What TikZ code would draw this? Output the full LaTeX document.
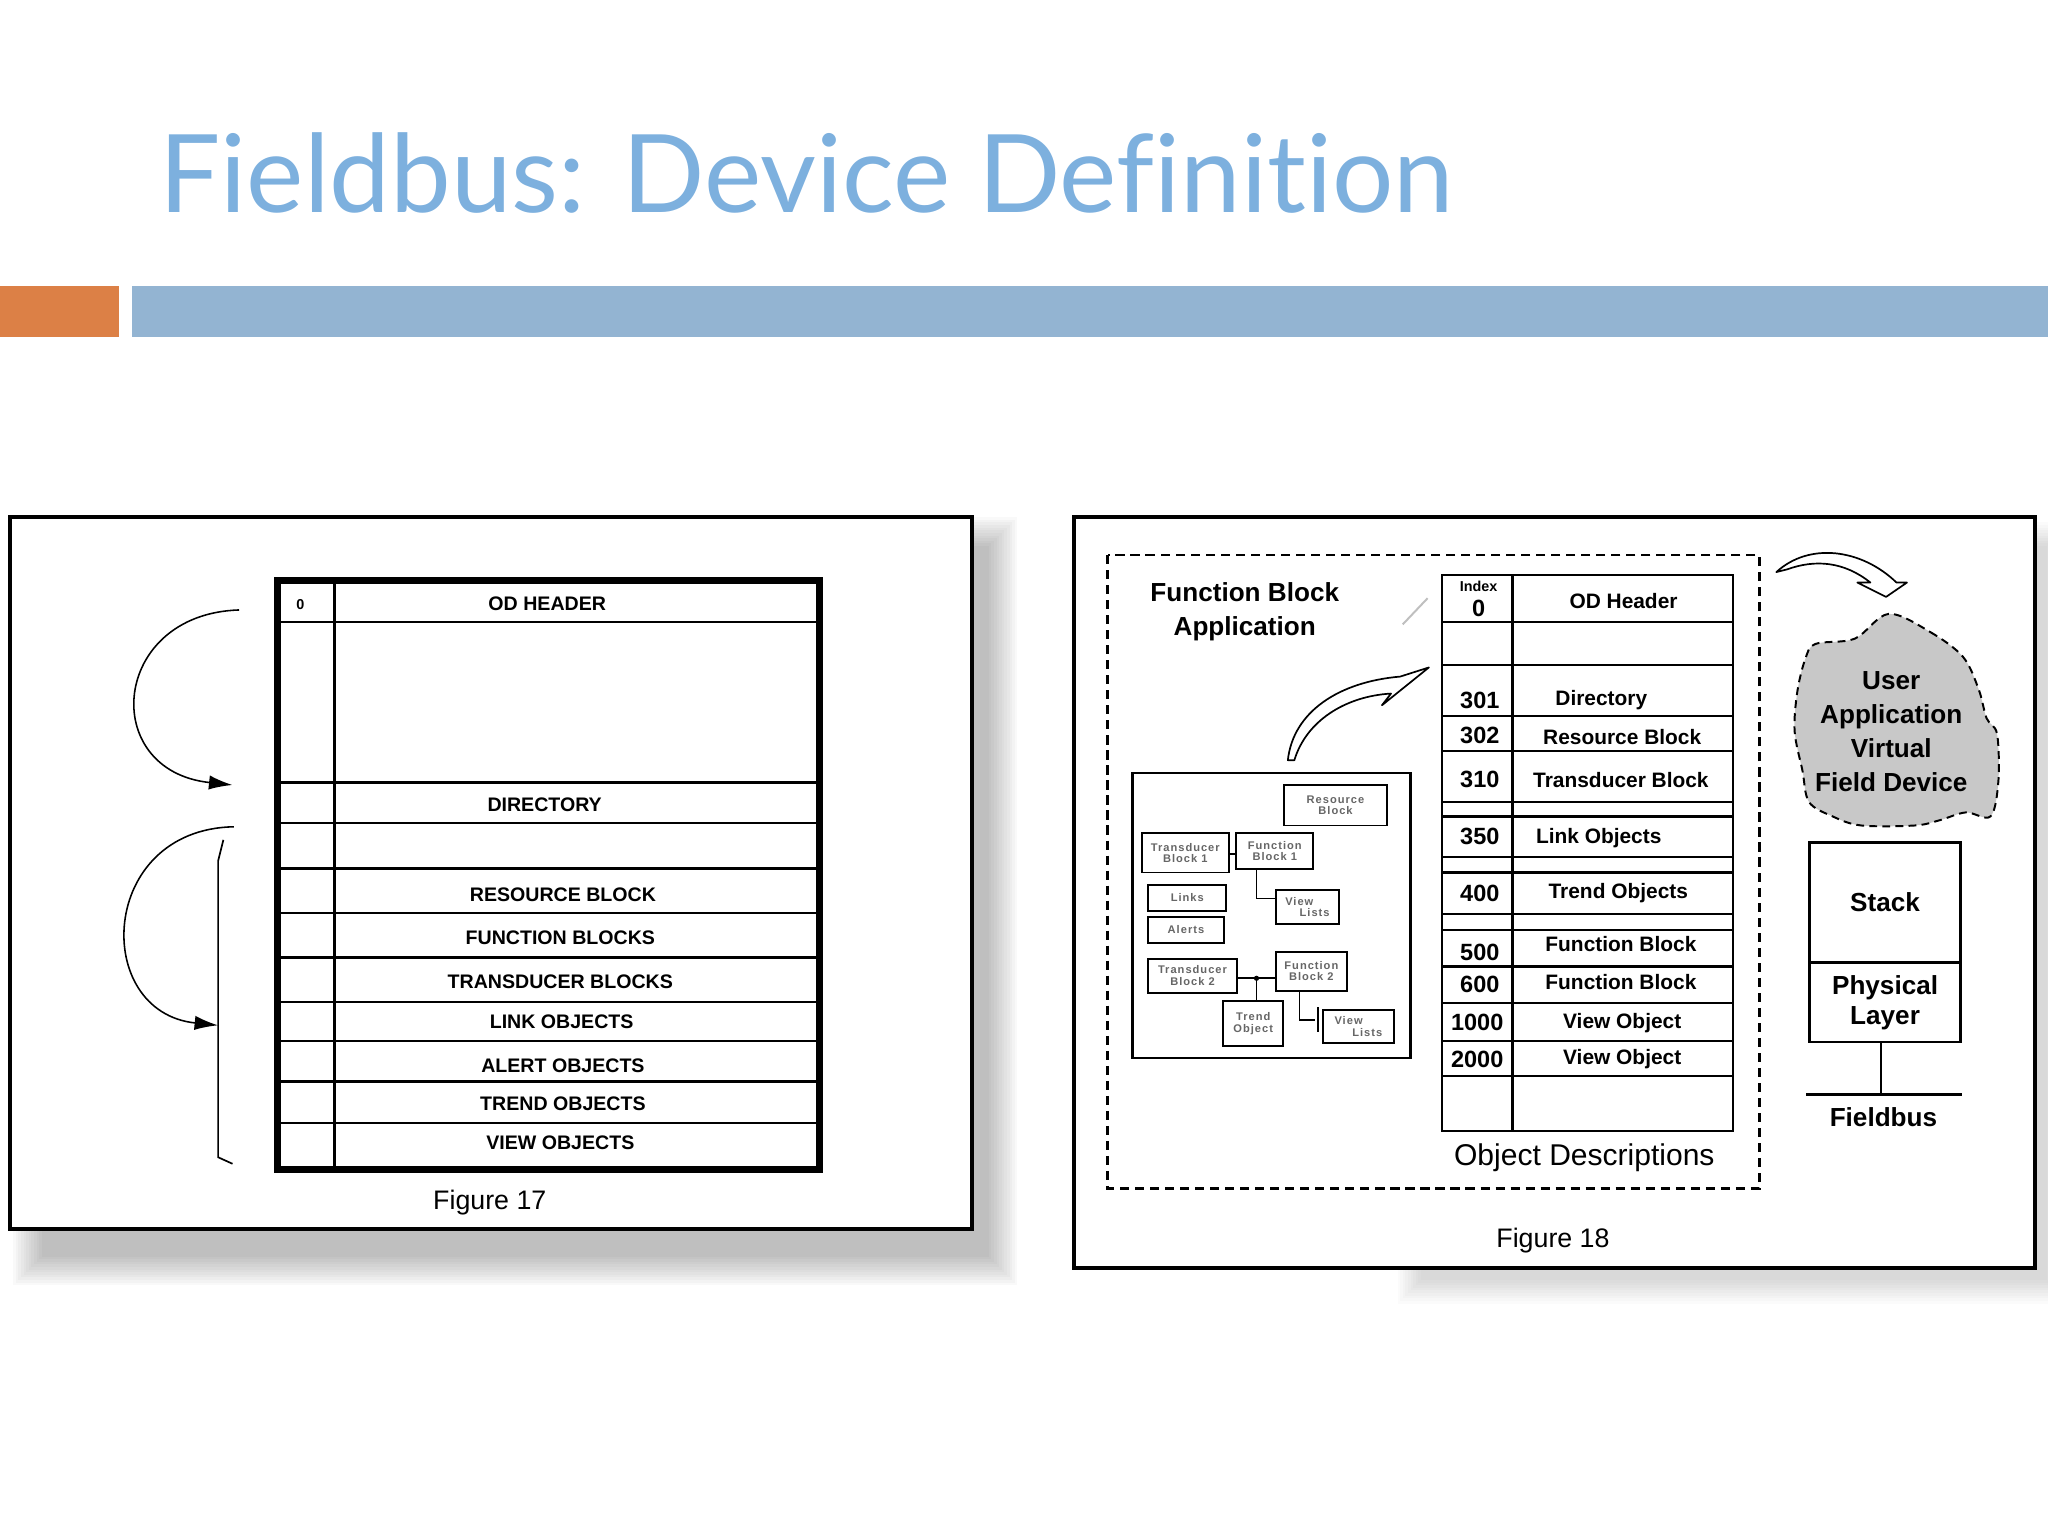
\documentclass[tikz,border=0pt]{standalone}
\usepackage{fontspec}
\setmainfont{Liberation Sans}
\newfontfamily\titlefont[Ligatures={NoCommon,NoRequired,NoContextual}]{Lato}
\newfontfamily\tinyfont[LetterSpace=9]{Liberation Sans}
\usetikzlibrary{arrows.meta,positioning,calc}

\definecolor{titleblue}{RGB}{125,176,222}
\definecolor{barblue}{RGB}{147,180,210}
\definecolor{barorange}{RGB}{220,128,70}
\definecolor{cloudgray}{RGB}{200,200,200}

\begin{document}
\begin{tikzpicture}[x=1pt, y=-1pt, inner sep=0pt,
  panel/.style={draw=black, line width=3pt, fill=white},
  odline/.style={line width=1.8pt},
  capslbl/.style={font=\fontsize{15}{17}\selectfont\bfseries},
  odlbl/.style={font=\fontsize{16}{18}\selectfont\bfseries},
  idxlbl/.style={font=\fontsize{18}{20}\selectfont\bfseries},
  figlbl/.style={font=\fontsize{20.5}{24}\selectfont},
  biglbl/.style={font=\fontsize{20}{26}\selectfont\bfseries, align=center},
  fbbox/.style={draw, line width=1.5pt, align=center, text=black!60,
    font=\tinyfont\fontsize{8.5}{9}\selectfont\bfseries},
  curl/.style={line width=1.2pt, -{Latex[length=18pt,width=11pt]}},
  hollow/.style={line width=1.3pt, fill=white, line join=round},
  link/.style={line width=1.3pt}]
   \useasboundingbox (0,0) rectangle (1568,1176);

   %title and bars
   \node[anchor=base west, text=titleblue, font=\titlefont\fontsize{83}{90}\selectfont] (title) at (122,163) {Fieldbus: Device Definition};
   \fill[barorange] (0,219) rectangle (91,258);
   \fill[barblue] (101,219) rectangle (1568,258);

   %shadows
   \foreach \i in {1,...,12}
     \fill[black, opacity=0.022] (34-2*\i,420-2*\i) rectangle (755+2*\i,960+2*\i);
   \foreach \i in {1,...,10}
     \fill[black, opacity=0.015] (1090-2*\i,420-2*\i) rectangle (1565+2*\i,978+2*\i);

   %figure 17
   \draw[panel] (8,396) rectangle (744,941);
   \draw[odline] (256,444) -- (256,896);
   \foreach \y in {476,599,630,665,699,733,767,797,828,860}
     \draw[odline] (212,\y) -- (628,\y);
   \draw[line width=5pt] (212.5,444.5) rectangle (627.5,895.5);

   \node[font=\fontsize{11}{12}\selectfont\bfseries] (zero) at (230,463) {0};
   \node[capslbl] (odh) at (419,462) {OD HEADER};
   \node[capslbl] (dir) at (417,616) {DIRECTORY};
   \node[capslbl] (rb) at (431,685) {RESOURCE BLOCK};
   \node[capslbl] (fbs) at (429,718) {FUNCTION BLOCKS};
   \node[capslbl] (tbs) at (429,752) {TRANSDUCER BLOCKS};
   \node[capslbl] (lo) at (430,782) {LINK OBJECTS};
   \node[capslbl] (ao) at (431,816) {ALERT OBJECTS};
   \node[capslbl] (to) at (431,845) {TREND OBJECTS};
   \node[capslbl] (vo) at (429,875) {VIEW OBJECTS};
   \node[figlbl] (fig17) at (375,921) {Figure 17};

   \coordinate (c1s) at (183,467);
   \coordinate (c1e) at (178,601);
   \coordinate (c2s) at (179,633);
   \coordinate (c2e) at (167,785);
   \coordinate (brt) at (167,659);
   \coordinate (brb) at (167,886);
   \draw[curl] (c1s) .. controls (85,470) and (75,590) .. (c1e);
   \draw[curl] (c2s) .. controls (75,635) and (70,775) .. (c2e);
   \draw[link] (171,643) -- (brt) -- (brb) -- (178,891);

   %figure 18
   \draw[panel] (822,396) rectangle (1558,971);
   \draw[line width=2pt, dash pattern=on 7pt off 4.5pt] (848,425) rectangle (1347,910);
   \node[biglbl] (fbapp) at (953,468) {Function Block\\Application};
   \draw[black!25, line width=1.5pt] (1074,478) -- (1093,458);
   \draw[hollow] (986,582) .. controls (990,545) and (1025,522) .. (1072,518)
     -- (1094,511) -- (1058,540) -- (1065,531)
     .. controls (1030,533) and (1000,552) .. (991,582) -- cycle;

   %function block application
   \node[draw, line width=1.8pt, minimum width=213pt, minimum height=218pt] (fbarea) at (973.5,701) {};
   \node[fbbox, minimum width=79pt, minimum height=31pt] (res) at (1022.5,616.5) {Resource\\Block};
   \node[fbbox, minimum width=67pt, minimum height=30pt] (tb1) at (907.5,653) {Transducer\\Block 1};
   \node[fbbox, minimum width=59pt, minimum height=28pt] (fb1) at (976,651.5) {Function\\Block 1};
   \node[fbbox, minimum width=60pt, minimum height=20pt] (lnk) at (909,687.5) {Links};
   \node[fbbox, minimum width=58pt, minimum height=20pt] (alr) at (908,712) {Alerts};
   \node[fbbox, minimum width=48pt, minimum height=26pt, align=left] (vl1) at (1001,694.5) {View\\\hspace*{1.3em}Lists};
   \node[fbbox, minimum width=68pt, minimum height=26pt] (tb2) at (913,747) {Transducer\\Block 2};
   \node[fbbox, minimum width=54pt, minimum height=30pt] (fb2) at (1004,743.5) {Function\\Block 2};
   \node[fbbox, minimum width=46pt, minimum height=34pt] (trd) at (959.5,783.5) {Trend\\Object};
   \node[fbbox, minimum width=54pt, minimum height=25pt, align=left] (vl2) at (1040,786) {View\\\hspace*{1.6em}Lists};

   \coordinate (j1) at (962,688);
   \coordinate (j2) at (962,749);
   \coordinate (j3) at (995,781);
   \coordinate (t3) at (1009,781);
   \draw[link] (tb1.east |- 0,654) -- (fb1.west |- 0,654);
   \draw[link] (fb1.south -| j1) |- (vl1.west |- j1);
   \draw[link] (tb2.east |- j2) -- (fb2.west |- j2);
   \draw[link] (j2) -- (trd.north -| j2);
   \fill (j2) circle (2pt);
   \draw[link] (fb2.south -| j3) |- ($(t3)+(-2,0)$);
   \draw[link] ($(t3)+(0,-10)$) -- ($(t3)+(0,9)$);

   %object descriptions
   \draw[odline] (1104,440) rectangle (1327,866);
   \draw[odline] (1158,440) -- (1158,866);
   \foreach \y in {476,509,548,575,614,625,656,668,700,712,740,768,797,824}
     \draw[odline] (1104,\y) -- (1327,\y);

   \node[font=\fontsize{11}{12}\selectfont\bfseries] (idx) at (1132,449) {Index};
   \node[idxlbl] (i0) at (1132,466) {0};
   \node[odlbl] (odhdr) at (1243,460) {OD Header};
   \node[idxlbl] (i301) at (1133,536) {301};
   \node[odlbl] (dirc) at (1226,536) {Directory};
   \node[idxlbl] (i302) at (1133,563) {302};
   \node[odlbl] (resb) at (1242,564) {Resource Block};
   \node[idxlbl] (i310) at (1133,597) {310};
   \node[odlbl] (trb) at (1241,597) {Transducer Block};
   \node[idxlbl] (i350) at (1133,640) {350};
   \node[odlbl] (lnko) at (1224,642) {Link Objects};
   \node[idxlbl] (i400) at (1133,684) {400};
   \node[odlbl] (trdo) at (1239,684) {Trend Objects};
   \node[idxlbl] (i500) at (1133,729) {500};
   \node[odlbl] (fnb1) at (1241,723) {Function Block};
   \node[idxlbl] (i600) at (1133,754) {600};
   \node[odlbl] (fnb2) at (1241,752) {Function Block};
   \node[idxlbl] (i1000) at (1131,783) {1000};
   \node[odlbl] (vwo1) at (1242,783) {View Object};
   \node[idxlbl] (i2000) at (1131,811) {2000};
   \node[odlbl] (vwo2) at (1242,811) {View Object};
   \node[font=\fontsize{23}{26}\selectfont] (objd) at (1213,886) {Object Descriptions};
   \node[figlbl] (fig18) at (1189,950) {Figure 18};

   %user application and stack
   \draw[hollow] (1360,438) .. controls (1385,415) and (1425,420) .. (1452,446)
     -- (1460,446) -- (1444,457) -- (1422,446) -- (1432,446)
     .. controls (1412,430) and (1390,428) .. (1368,436) -- cycle;
   \draw[fill=cloudgray, line width=1.5pt, dash pattern=on 6pt off 4pt]
     plot[smooth cycle, tension=0.55] coordinates {(1446,470) (1478,484) (1503,503) (1515,528)
     (1521,550) (1529,562) (1530,598) (1524,625) (1505,622) (1485,628) (1466,632) (1425,632)
     (1403,625) (1385,614) (1380,590) (1374,560) (1376,530) (1382,505) (1390,493) (1420,489)};
   \node[biglbl] (uavfd) at (1448,560) {User\\Application\\Virtual\\Field Device};

   \node[draw, line width=1.8pt, minimum width=115.5pt, minimum height=92pt, biglbl] (stk) at (1443.25,691) {Stack};
   \node[draw, line width=1.8pt, minimum width=115.5pt, minimum height=61pt, biglbl,
     font=\fontsize{20}{23}\selectfont\bfseries] (phy) at (1443.25,767.5) {Physical\\Layer};
   \coordinate (bus) at (1440,838);
   \coordinate (busl) at (1383,838);
   \coordinate (busr) at (1502,838);
   \draw[odline] (phy.south -| bus) -- (bus);
   \draw[odline] (busl) -- (busr);
   \node[biglbl] (fbus) at (1442,855) {Fieldbus};
\end{tikzpicture}
\end{document}
